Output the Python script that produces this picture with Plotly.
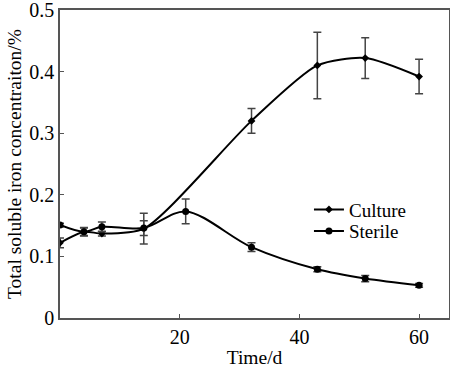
import plotly.graph_objects as go

days_culture = [0, 4, 7, 14, 32, 43, 51, 60]
culture = [0.122, 0.140, 0.137, 0.145, 0.320, 0.410, 0.422, 0.392]
culture_err = [0.008, 0.006, 0.004, 0.025, 0.020, 0.054, 0.033, 0.028]

days_sterile = [0, 4, 7, 14, 21, 32, 43, 51, 60]
sterile = [0.151, 0.140, 0.148, 0.146, 0.173, 0.115, 0.079, 0.064, 0.053]
sterile_err = [0.003, 0.007, 0.008, 0.012, 0.020, 0.007, 0.004, 0.005, 0.003]

x_ticks = [0, 20, 40, 60]
x_labels = ["", "20", "40", "60"]
y_ticks = [0, 0.1, 0.2, 0.3, 0.4, 0.5]
y_labels = ["0", "0.1", "0.2", "0.3", "0.4", "0.5"]

font = "Liberation Serif"

fig = go.Figure()
fig.add_trace(go.Scatter(
    x=days_culture, y=culture, name="Culture", mode="lines+markers",
    line=dict(color="black", width=2, shape="spline", smoothing=0.7),
    marker=dict(symbol="diamond", size=6, color="black"),
    error_y=dict(type="data", array=culture_err, color="#444", thickness=1.5, width=4),
    legend="legend",
))
fig.add_trace(go.Scatter(
    x=days_sterile, y=sterile, name="Sterile", mode="lines+markers",
    line=dict(color="black", width=2, shape="spline", smoothing=0.9),
    marker=dict(symbol="circle", size=7, color="black"),
    error_y=dict(type="data", array=sterile_err, color="#444", thickness=1.5, width=4),
    legend="legend2",
))

axis_common = dict(showgrid=False, zeroline=False, showline=True, mirror=True,
                   linecolor="#555", linewidth=1.5, ticks="inside", ticklen=4,
                   tickcolor="#555", ticklabeloverflow="allow",
                   tickfont=dict(family=font, size=20, color="black"))

leg_common = dict(xanchor="left", yanchor="middle", bgcolor="rgba(0,0,0,0)",
                  font=dict(family=font, size=19), itemwidth=30)

fig.update_layout(
    width=450, height=368,
    margin=dict(l=60, r=1, t=10, b=50, autoexpand=False),
    paper_bgcolor="white", plot_bgcolor="white",
    font=dict(family=font, size=20, color="black"),
    xaxis=dict(range=[0, 65], tickvals=x_ticks, ticktext=x_labels,
               title=dict(text="Time/d", font=dict(family=font, size=19.5), standoff=4),
               **axis_common),
    yaxis=dict(range=[0, 0.5], tickvals=y_ticks, ticktext=y_labels,
               title=dict(text="Total soluble iron concentraiton/%", font=dict(family=font, size=19.5), standoff=2),
               **axis_common),
    legend=dict(x=0.64, y=0.352, **leg_common),
    legend2=dict(x=0.64, y=0.282, **leg_common),
    showlegend=True,
)

fig.write_html("out.html", config={"displayModeBar": False},
               post_script="document.body.style.margin='0';")
